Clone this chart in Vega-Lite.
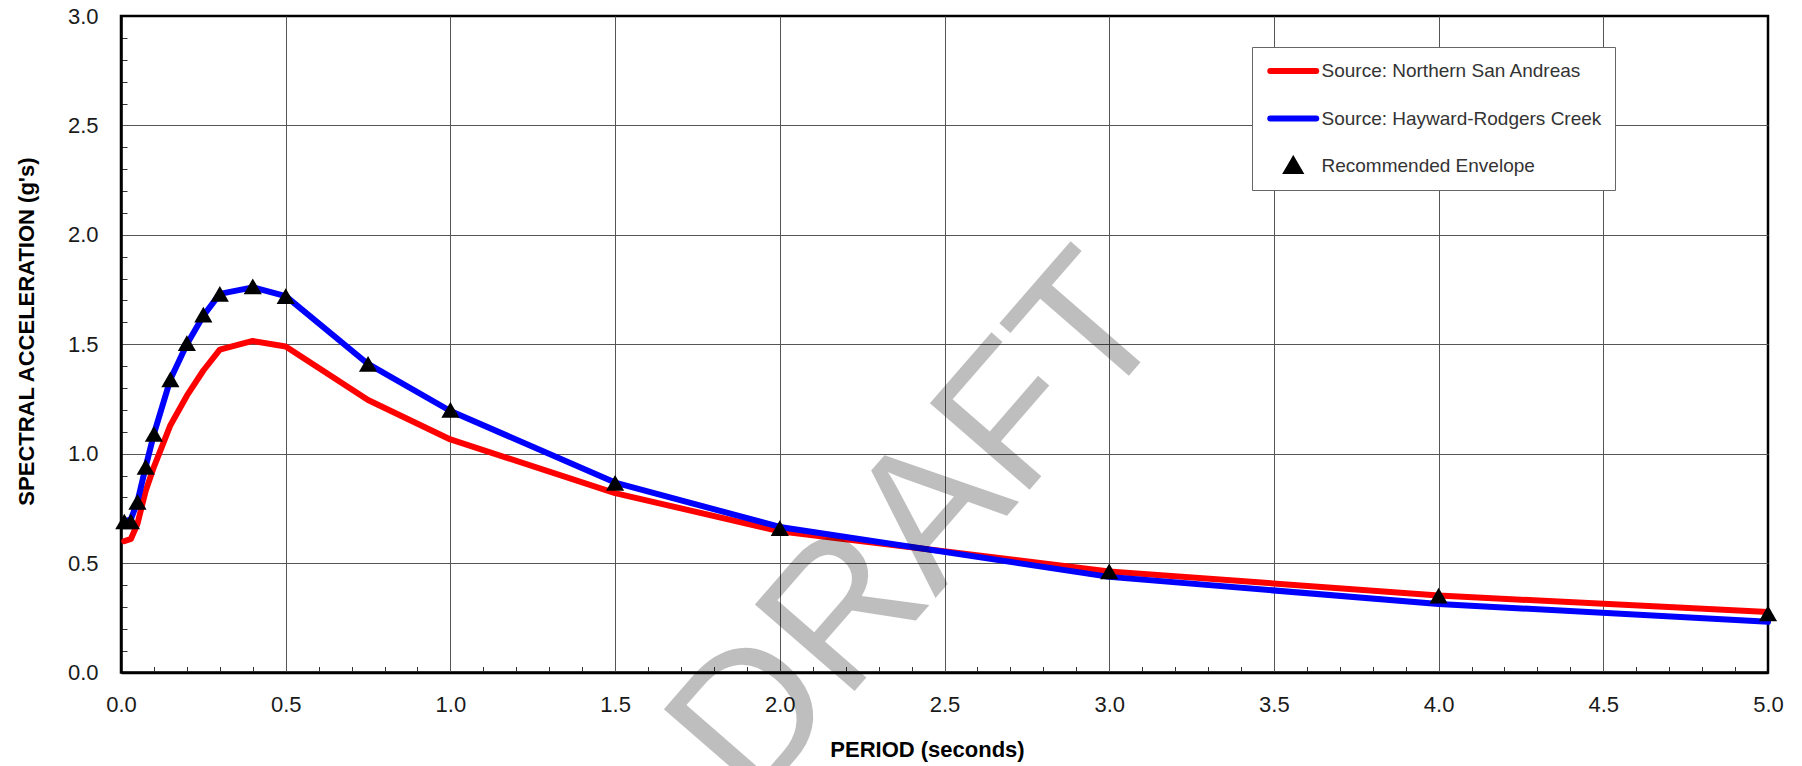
{
  "$schema": "https://vega.github.io/schema/vega-lite/v6.json",
  "width": 1647,
  "height": 656.5,
  "autosize": "none",
  "padding": {"left": 121, "top": 16, "right": 34, "bottom": 93.5},
  "background": "white",
  "config": {
    "view": {"stroke": "#000000", "strokeWidth": 2.5},
    "font": "Liberation Sans"
  },
  "datasets": {
    "curves": [
      {"series": "Source: Northern San Andreas", "period": 0.01, "sa": 0.60},
      {"series": "Source: Northern San Andreas", "period": 0.03, "sa": 0.61},
      {"series": "Source: Northern San Andreas", "period": 0.05, "sa": 0.68},
      {"series": "Source: Northern San Andreas", "period": 0.075, "sa": 0.83},
      {"series": "Source: Northern San Andreas", "period": 0.1, "sa": 0.94},
      {"series": "Source: Northern San Andreas", "period": 0.15, "sa": 1.13},
      {"series": "Source: Northern San Andreas", "period": 0.2, "sa": 1.265},
      {"series": "Source: Northern San Andreas", "period": 0.25, "sa": 1.38},
      {"series": "Source: Northern San Andreas", "period": 0.3, "sa": 1.475},
      {"series": "Source: Northern San Andreas", "period": 0.4, "sa": 1.515},
      {"series": "Source: Northern San Andreas", "period": 0.5, "sa": 1.49},
      {"series": "Source: Northern San Andreas", "period": 0.75, "sa": 1.245},
      {"series": "Source: Northern San Andreas", "period": 1.0, "sa": 1.065},
      {"series": "Source: Northern San Andreas", "period": 1.5, "sa": 0.82},
      {"series": "Source: Northern San Andreas", "period": 2.0, "sa": 0.645},
      {"series": "Source: Northern San Andreas", "period": 3.0, "sa": 0.462},
      {"series": "Source: Northern San Andreas", "period": 4.0, "sa": 0.352},
      {"series": "Source: Northern San Andreas", "period": 5.0, "sa": 0.276},
      {"series": "Source: Hayward-Rodgers Creek", "period": 0.01, "sa": 0.69},
      {"series": "Source: Hayward-Rodgers Creek", "period": 0.03, "sa": 0.70},
      {"series": "Source: Hayward-Rodgers Creek", "period": 0.05, "sa": 0.78},
      {"series": "Source: Hayward-Rodgers Creek", "period": 0.075, "sa": 0.94},
      {"series": "Source: Hayward-Rodgers Creek", "period": 0.1, "sa": 1.09},
      {"series": "Source: Hayward-Rodgers Creek", "period": 0.15, "sa": 1.34},
      {"series": "Source: Hayward-Rodgers Creek", "period": 0.2, "sa": 1.50},
      {"series": "Source: Hayward-Rodgers Creek", "period": 0.25, "sa": 1.63},
      {"series": "Source: Hayward-Rodgers Creek", "period": 0.3, "sa": 1.73},
      {"series": "Source: Hayward-Rodgers Creek", "period": 0.4, "sa": 1.76},
      {"series": "Source: Hayward-Rodgers Creek", "period": 0.5, "sa": 1.72},
      {"series": "Source: Hayward-Rodgers Creek", "period": 0.75, "sa": 1.41},
      {"series": "Source: Hayward-Rodgers Creek", "period": 1.0, "sa": 1.195},
      {"series": "Source: Hayward-Rodgers Creek", "period": 1.5, "sa": 0.868},
      {"series": "Source: Hayward-Rodgers Creek", "period": 2.0, "sa": 0.665},
      {"series": "Source: Hayward-Rodgers Creek", "period": 3.0, "sa": 0.437},
      {"series": "Source: Hayward-Rodgers Creek", "period": 4.0, "sa": 0.313},
      {"series": "Source: Hayward-Rodgers Creek", "period": 5.0, "sa": 0.232},
      {"series": "Recommended Envelope", "period": 0.01, "sa": 0.69},
      {"series": "Recommended Envelope", "period": 0.03, "sa": 0.69},
      {"series": "Recommended Envelope", "period": 0.05, "sa": 0.78},
      {"series": "Recommended Envelope", "period": 0.075, "sa": 0.94},
      {"series": "Recommended Envelope", "period": 0.1, "sa": 1.09},
      {"series": "Recommended Envelope", "period": 0.15, "sa": 1.34},
      {"series": "Recommended Envelope", "period": 0.2, "sa": 1.505},
      {"series": "Recommended Envelope", "period": 0.25, "sa": 1.635},
      {"series": "Recommended Envelope", "period": 0.3, "sa": 1.73},
      {"series": "Recommended Envelope", "period": 0.4, "sa": 1.765},
      {"series": "Recommended Envelope", "period": 0.5, "sa": 1.72},
      {"series": "Recommended Envelope", "period": 0.75, "sa": 1.41},
      {"series": "Recommended Envelope", "period": 1.0, "sa": 1.20},
      {"series": "Recommended Envelope", "period": 1.5, "sa": 0.867},
      {"series": "Recommended Envelope", "period": 2.0, "sa": 0.66},
      {"series": "Recommended Envelope", "period": 3.0, "sa": 0.462},
      {"series": "Recommended Envelope", "period": 4.0, "sa": 0.351},
      {"series": "Recommended Envelope", "period": 5.0, "sa": 0.27}
    ]
  },
  "resolve": {"axis": {"x": "independent", "y": "independent"}},
  "layer": [
    {
      "data": {"name": "curves"},
      "transform": [{"filter": "datum.series !== 'Recommended Envelope'"}],
      "mark": {"type": "line", "strokeWidth": 6, "strokeJoin": "round", "strokeCap": "round"},
      "encoding": {
        "x": {
          "field": "period", "type": "quantitative",
          "scale": {"domain": [0, 5], "nice": false, "zero": false},
          "axis": {"orient": "bottom", "values": [0.5, 1, 1.5, 2, 2.5, 3, 3.5, 4, 4.5], "grid": true, "gridColor": "#555555", "gridWidth": 1, "gridOpacity": 1, "labels": false, "ticks": false, "domain": false, "title": null}
        },
        "y": {
          "field": "sa", "type": "quantitative",
          "scale": {"domain": [0, 3], "nice": false, "zero": false},
          "axis": {"orient": "left", "values": [0.5, 1, 1.5, 2, 2.5], "grid": true, "gridColor": "#555555", "gridWidth": 1, "gridOpacity": 1, "labels": false, "ticks": false, "domain": false, "title": null}
        },
        "color": {
          "field": "series", "type": "nominal",
          "scale": {"domain": ["Source: Northern San Andreas", "Source: Hayward-Rodgers Creek", "Recommended Envelope"], "range": ["#ff0000", "#0000ff", "#000000"]},
          "legend": {
            "orient": "none", "legendX": 1131, "legendY": 31,
            "title": null,
            "symbolType": "stroke", "symbolSize": 100, "symbolStrokeWidth": 6,
            "symbolOffset": 18.75,
            "labelFont": "Liberation Sans", "labelFontSize": 19, "labelColor": "#333333", "labelLimit": 400,
            "labelOffset": 18.75,
            "padding": 13, "rowPadding": 25.5, "clipHeight": 22,
            "strokeColor": "#666666", "fillColor": "#ffffff",
            "encode": {
              "symbols": {
                "update": {
                  "shape": {"signal": "datum.value === 'Recommended Envelope' ? 'triangle-up' : 'M-4.6,0H4.6'"},
                  "size": {"signal": "datum.value === 'Recommended Envelope' ? 140 : 100"},
                  "fill": {"signal": "datum.value === 'Recommended Envelope' ? '#000000' : 'transparent'"},
                  "stroke": {"signal": "datum.value === 'Recommended Envelope' ? 'transparent' : (datum.value === 'Source: Northern San Andreas' ? '#ff0000' : '#0000ff')"},
                  "strokeWidth": {"value": 6},
                  "strokeCap": {"value": "round"},
                  "opacity": {"value": 1}
                }
              }
            }
          }
        }
      }
    },
    {
      "data": {"name": "curves"},
      "transform": [{"filter": "datum.series === 'Recommended Envelope'"}],
      "mark": {"type": "point", "shape": "triangle-up", "filled": true, "size": 330, "opacity": 1, "strokeWidth": 0},
      "encoding": {
        "x": {
          "field": "period", "type": "quantitative",
          "axis": {"orient": "bottom", "values": [0.1,0.2,0.3,0.4,0.6,0.7,0.8,0.9,1.1,1.2,1.3,1.4,1.6,1.7,1.8,1.9,2.1,2.2,2.3,2.4,2.6,2.7,2.8,2.9,3.1,3.2,3.3,3.4,3.6,3.7,3.8,3.9,4.1,4.2,4.3,4.4,4.6,4.7,4.8,4.9], "grid": false, "labels": false, "ticks": true, "tickSize": -6, "tickColor": "#333333", "tickWidth": 1, "domain": false, "title": null}
        },
        "y": {
          "field": "sa", "type": "quantitative",
          "axis": {"orient": "left", "values": [0.1,0.2,0.3,0.4,0.6,0.7,0.8,0.9,1.1,1.2,1.3,1.4,1.6,1.7,1.8,1.9,2.1,2.2,2.3,2.4,2.6,2.7,2.8,2.9], "grid": false, "labels": false, "ticks": true, "tickSize": -6, "tickColor": "#333333", "tickWidth": 1, "domain": false, "title": null}
        },
        "color": {"field": "series", "type": "nominal"}
      }
    },
    {
      "data": {"values": [{"label": "DRAFT"}]},
      "mark": {"type": "text", "angle": -49, "fontSize": 192, "font": "Liberation Sans", "color": "#000000", "opacity": 0.25, "align": "center", "baseline": "alphabetic"},
      "encoding": {
        "x": {
          "datum": 2.557, "type": "quantitative",
          "axis": {"orient": "bottom", "values": [0, 0.5, 1, 1.5, 2, 2.5, 3, 3.5, 4, 4.5, 5], "format": ".1f", "grid": false, "ticks": false, "tickSize": 0, "labelPadding": 22, "labelFontSize": 22, "labelFont": "Liberation Sans", "labelColor": "#1a1a1a", "labelFlush": false, "labelOverlap": false, "domain": true, "domainColor": "#000000", "domainWidth": 2.5,
            "title": "PERIOD (seconds)", "titleFont": "Liberation Sans", "titleFontSize": 22, "titleFontWeight": "bold", "titleColor": "#000000", "titleX": 806, "titleY": 83.5, "titleBaseline": "alphabetic", "titleAlign": "center"}
        },
        "y": {
          "datum": 0.486, "type": "quantitative",
          "axis": {"orient": "left", "values": [0, 0.5, 1, 1.5, 2, 2.5, 3], "format": ".1f", "grid": false, "ticks": false, "tickSize": 0, "labelPadding": 23, "labelFontSize": 22, "labelFont": "Liberation Sans", "labelColor": "#1a1a1a", "labelFlush": false, "labelOverlap": false, "domain": true, "domainColor": "#000000", "domainWidth": 2.5,
            "title": "SPECTRAL ACCELERATION (g's)", "titleFont": "Liberation Sans", "titleFontSize": 22, "titleFontWeight": "bold", "titleColor": "#000000", "titleX": -88, "titleY": 315, "titleBaseline": "alphabetic", "titleAlign": "center", "titleAngle": 270}
        },
        "text": {"field": "label", "type": "nominal"}
      }
    }
  ]
}
